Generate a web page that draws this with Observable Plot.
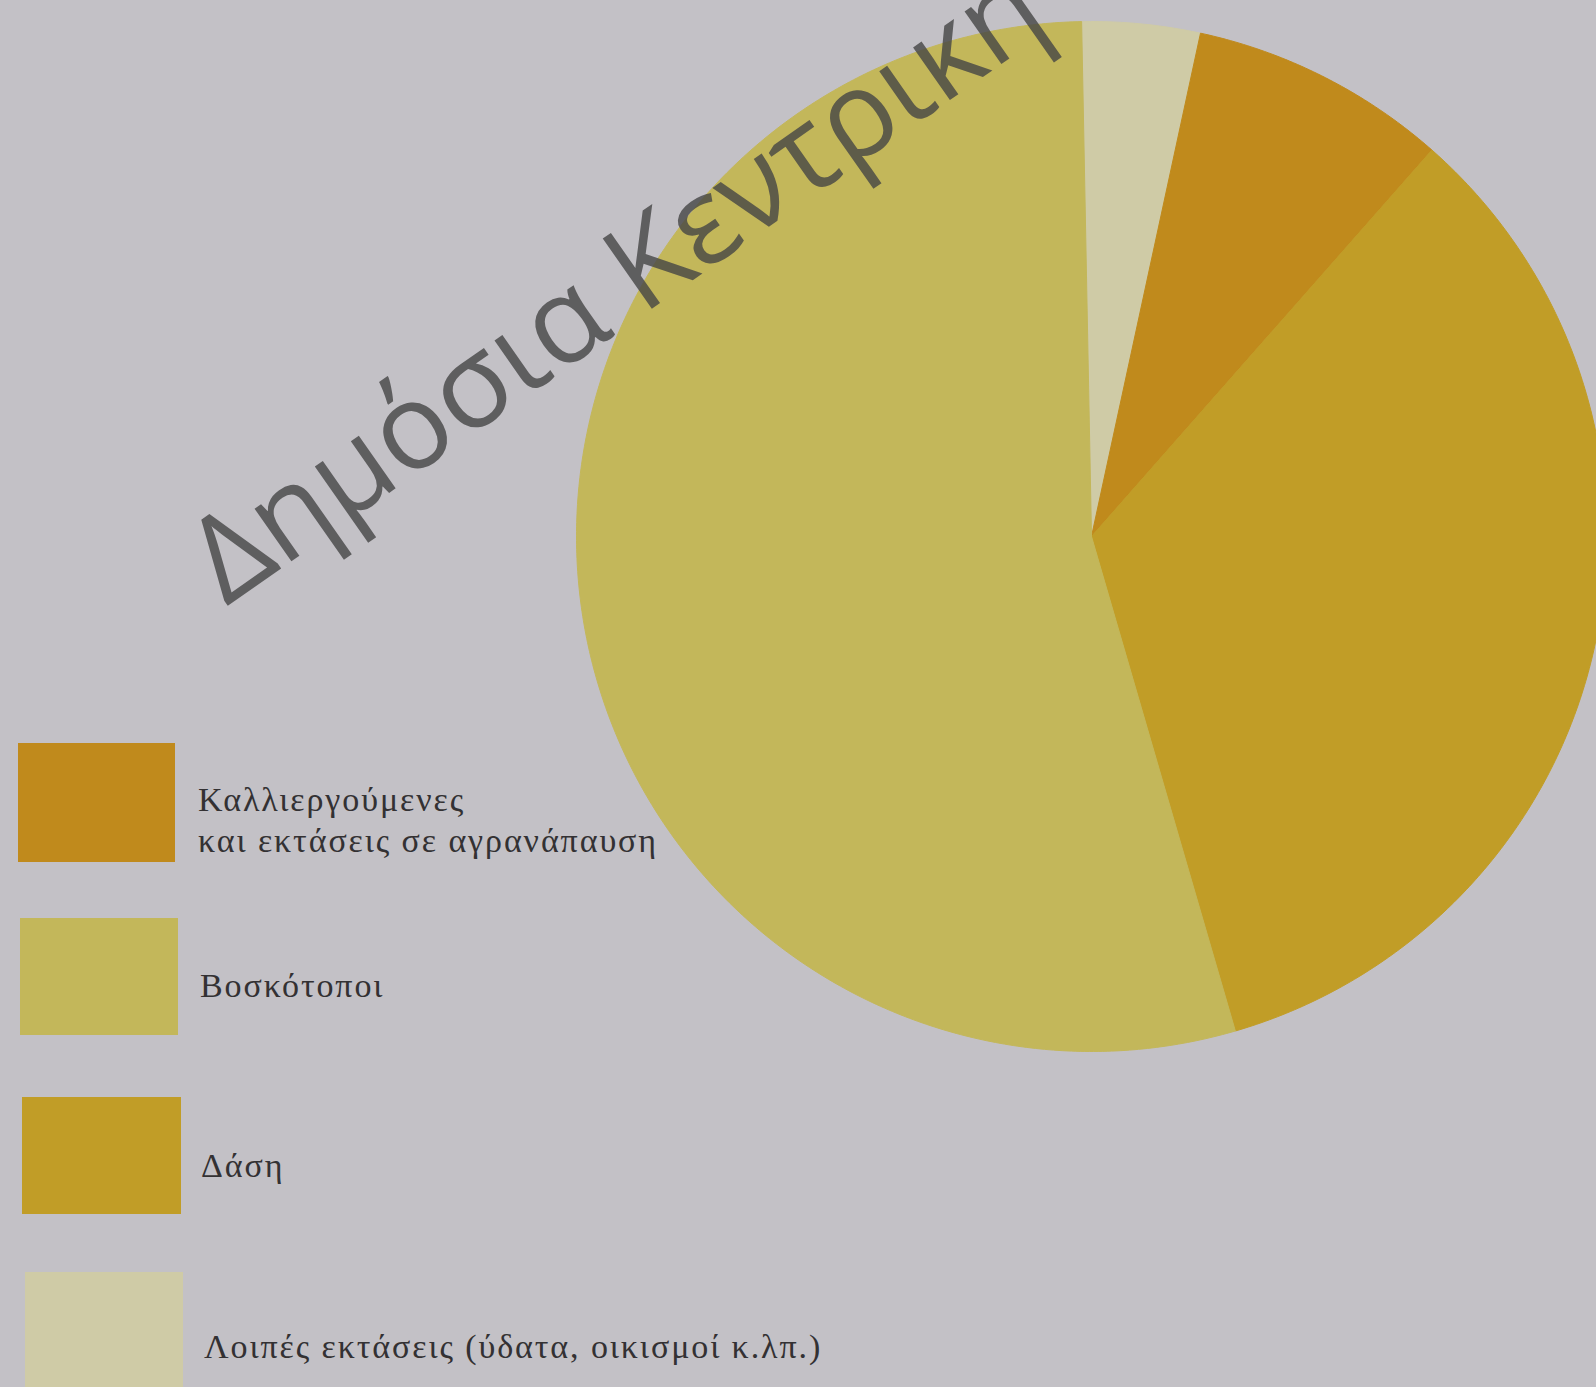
<!DOCTYPE html>
<html>
<head>
<meta charset="utf-8">
<script src="https://cdn.jsdelivr.net/npm/d3@7"></script>
<script src="https://cdn.jsdelivr.net/npm/@observablehq/plot@0.6"></script>
<style>
  html, body { margin: 0; padding: 0; background: #c3c1c6; }
  #wrap { position: relative; width: 1596px; height: 1387px; overflow: hidden; background: #c3c1c6; }
  #chart { position: absolute; left: 0; top: 0; }
  .sw { position: absolute; }
  .lab { position: absolute; font-family: "Liberation Serif", "DejaVu Serif", serif; font-size: 34px; letter-spacing: 1.9px; color: #333133; line-height: 41px; white-space: nowrap; }
  #wm { position: absolute; left: 0; top: 0; pointer-events: none; }
</style>
</head>
<body>
<div id="wrap">
  <div id="chart"></div>
</div>
<script>
// ---- data ----
const categories = [
  "Λοιπές εκτάσεις (ύδατα, οικισμοί κ.λπ.)",
  "Καλλιεργούμενες και εκτάσεις σε αγρανάπαυση",
  "Δάση",
  "Βοσκότοποι"
];
const shares = [3.7, 8.1, 34.0, 54.2];
const colors = ["#cfcba6", "#c08a1c", "#c19d27", "#c3b75a"];
const legendOrder = [1, 3, 2, 0];
const legendLines = [
  ["Λοιπές εκτάσεις (ύδατα, οικισμοί κ.λπ.)"],
  ["Καλλιεργούμενες", "και εκτάσεις σε αγρανάπαυση"],
  ["Δάση"],
  ["Βοσκότοποι"]
];
const startAngleDeg = -1.1;
const watermark = "Δημόσια Κεντρική";

// ---- layout ----
const W = 1596, H = 1387;
const cx = 1091, cy = 536, R = 515;

const arcs = d3.pie().sort(null).value(d => d)
  .startAngle(startAngleDeg * Math.PI / 180)
  .endAngle((startAngleDeg + 360) * Math.PI / 180)(shares);

const points = [];
arcs.forEach((a, i) => {
  const cat = categories[i];
  points.push({cat, x: 0, y: 0});
  const n = Math.max(8, Math.ceil((a.endAngle - a.startAngle) / (Math.PI / 360)));
  for (let k = 0; k <= n; k++) {
    const t = a.startAngle + (a.endAngle - a.startAngle) * k / n;
    points.push({cat, x: Math.sin(t), y: Math.cos(t)});
  }
  points.push({cat, x: 0, y: 0});
});

const chart = Plot.plot({
  width: W,
  height: H,
  margin: 0,
  x: {domain: [-cx / R, (W - cx) / R], axis: null},
  y: {domain: [(cy - H) / R, cy / R], axis: null},
  color: {domain: categories, range: colors},
  style: {background: "transparent", overflow: "hidden"},
  marks: [
    Plot.line(points, {x: "x", y: "y", z: "cat", fill: "cat", stroke: "cat", strokeWidth: 1})
  ]
});
document.getElementById("chart").appendChild(chart);

// ---- legend ----
const swatchBoxes = [
  {x: 18, y: 743, w: 157, h: 119},
  {x: 20, y: 918, w: 158, h: 117},
  {x: 22, y: 1097, w: 159, h: 117},
  {x: 25, y: 1272, w: 158, h: 125}
];
const labelPos = [
  {x: 198, y: 779},
  {x: 200, y: 965},
  {x: 201, y: 1145},
  {x: 204, y: 1326}
];
const wrap = document.getElementById("wrap");
legendOrder.forEach((ci, j) => {
  const b = swatchBoxes[j];
  const sw = document.createElement("div");
  sw.className = "sw";
  Object.assign(sw.style, {left: b.x + "px", top: b.y + "px", width: b.w + "px", height: b.h + "px", background: colors[ci]});
  wrap.appendChild(sw);
  const lab = document.createElement("div");
  lab.className = "lab";
  Object.assign(lab.style, {left: labelPos[j].x + "px", top: labelPos[j].y + "px"});
  legendLines[ci].forEach((ln) => {
    const d = document.createElement("div");
    d.textContent = ln;
    lab.appendChild(d);
  });
  wrap.appendChild(lab);
});

// ---- watermark ----
const svgNS = "http://www.w3.org/2000/svg";
const wm = document.createElementNS(svgNS, "svg");
wm.setAttribute("id", "wm");
wm.setAttribute("width", W);
wm.setAttribute("height", H);
const t = document.createElementNS(svgNS, "text");
t.setAttribute("x", 226);
t.setAttribute("y", 607);
t.setAttribute("transform", "rotate(-35 226 607)");
t.setAttribute("font-family", "'Open Sans', 'Noto Sans', sans-serif");
t.setAttribute("font-size", 120);
t.setAttribute("fill", "#454545");
t.setAttribute("fill-opacity", 0.8);
t.textContent = watermark;
wm.appendChild(t);
wrap.appendChild(wm);
</script>
</body>
</html>
